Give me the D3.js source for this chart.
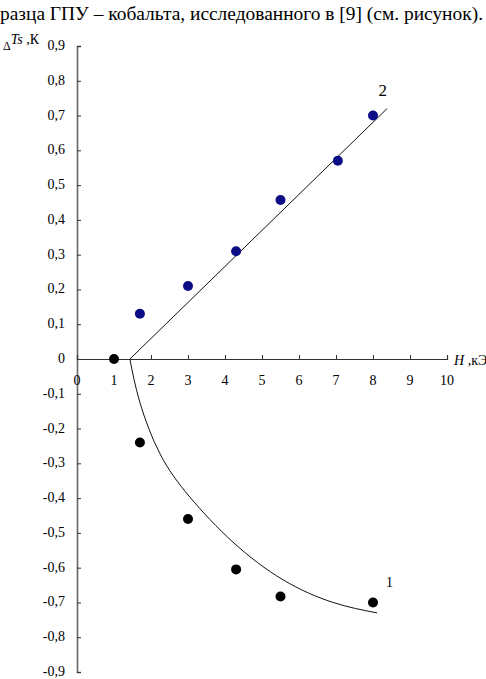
<!DOCTYPE html>
<html>
<head>
<meta charset="utf-8">
<script src="https://cdn.jsdelivr.net/npm/d3@7"></script>
<style>
body { margin: 0; background: #fff; }
</style>
</head>
<body>
<script>
// field H, kOe
var xTicks = [0, 1, 2, 3, 4, 5, 6, 7, 8, 9, 10];
var yTicks = [-0.9, -0.8, -0.7, -0.6, -0.5, -0.4, -0.3, -0.2, -0.1, 0, 0.1, 0.2, 0.3, 0.4, 0.5, 0.6, 0.7, 0.8, 0.9];

// series 2 (blue points) and its straight line
var hBlue = [1.7, 3.0, 4.3, 5.5, 7.05, 8.0];
var tBlue = [0.13, 0.21, 0.31, 0.457, 0.57, 0.70];
var line2 = [[1.43, 0], [8.38, 0.72]];

// series 1 (black points) and its curve
var hBlack = [1.0, 1.7, 3.0, 4.3, 5.5, 8.0];
var tBlack = [0, -0.24, -0.46, -0.605, -0.683, -0.70];
var curve1 = [[1.43, 0], [1.7, -0.125], [2.24, -0.272], [3.05, -0.397], [4.22, -0.527],
              [5.57, -0.635], [6.92, -0.70], [8.11, -0.73]];

var serif = "'Times New Roman'";

var svg = d3.select("body").append("svg")
  .attr("width", 486)
  .attr("height", 679);

svg.append("text")
  .attr("x", 0).attr("y", 20)
  .attr("font-size", 19)
  .attr("font-family", serif)
  .attr("textLength", 483)
  .attr("lengthAdjust", "spacingAndGlyphs")
  .text("разца ГПУ – кобальта, исследованного в [9] (см. рисунок).");

var x = d3.scaleLinear().domain([0, 10]).range([77, 447]);
var y = d3.scaleLinear().domain([-0.9, 0.9]).range([672, 46]);

var fmt = function(d) { return d3.format(".1f")(d).replace(".", ",").replace("−", "-"); };

// y axis
var yAxis = svg.append("g")
  .attr("transform", "translate(" + x(0) + ",0)")
  .call(d3.axisRight(y).tickValues(yTicks).tickSize(4).tickFormat(""));
yAxis.select(".domain").attr("stroke", "#666").attr("stroke-width", 1.6);
yAxis.selectAll(".tick line").attr("stroke", "#333");

svg.selectAll(".ylab")
  .data(yTicks)
  .enter()
  .append("text")
  .attr("class", "ylab")
  .attr("x", 65)
  .attr("y", function(d) { return y(d) + 4; })
  .attr("text-anchor", "end")
  .attr("font-family", serif)
  .attr("font-size", 14)
  .text(function(d) { return d === 0 ? "0" : fmt(d); });

// x axis
var xAxis = svg.append("g")
  .attr("transform", "translate(0," + y(0) + ")")
  .call(d3.axisTop(x).tickValues(xTicks).tickSize(4).tickFormat(""));
xAxis.select(".domain").attr("stroke", "#333").attr("stroke-width", 1.2);
xAxis.selectAll(".tick line").attr("stroke", "#333");

svg.selectAll(".xlab")
  .data(xTicks)
  .enter()
  .append("text")
  .attr("class", "xlab")
  .attr("x", function(d) { return x(d); })
  .attr("y", y(0) + 26)
  .attr("text-anchor", "middle")
  .attr("font-family", serif)
  .attr("font-size", 14)
  .text(function(d) { return d; });

// axis titles
var xt = svg.append("text").attr("x", 454).attr("y", y(0) + 6)
  .attr("font-family", serif).attr("font-size", 14);
xt.append("tspan").attr("font-style", "italic").text("H");
xt.append("tspan").text(" ,кЭ");

var yt = svg.append("text").attr("x", 3).attr("y", 46)
  .attr("font-family", serif).attr("font-size", 14);
yt.append("tspan").attr("font-size", 12).attr("dy", 4).text("Δ");
yt.append("tspan").attr("font-style", "italic").attr("dy", -6).text("Ts");
yt.append("tspan").text(" ,К");

// lines
var lineGen = d3.line()
  .x(function(d) { return x(d[0]); })
  .y(function(d) { return y(d[1]); });

svg.append("path")
  .attr("d", lineGen(line2))
  .attr("fill", "none").attr("stroke", "#111").attr("stroke-width", 1);

svg.append("path")
  .attr("d", lineGen.curve(d3.curveNatural)(curve1))
  .attr("fill", "none").attr("stroke", "#111").attr("stroke-width", 1);

// points
svg.selectAll(".pb")
  .data(hBlue)
  .enter()
  .append("circle")
  .attr("cx", function(d) { return x(d); })
  .attr("cy", function(d, i) { return y(tBlue[i]); })
  .attr("r", 5)
  .attr("fill", "#0c0c86");

svg.selectAll(".pk")
  .data(hBlack)
  .enter()
  .append("circle")
  .attr("cx", function(d) { return x(d); })
  .attr("cy", function(d, i) { return y(tBlack[i]); })
  .attr("r", 5)
  .attr("fill", "#000");

// series labels
svg.append("text").attr("x", x(8.15)).attr("y", y(0.755))
  .attr("font-family", serif).attr("font-size", 17).text("2");
svg.append("text").attr("x", x(8.35)).attr("y", y(-0.655))
  .attr("font-family", serif).attr("font-size", 14).text("1");
</script>
</body>
</html>
